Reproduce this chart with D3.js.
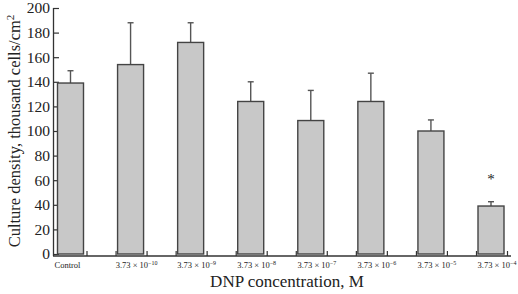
<!DOCTYPE html>
<html>
<head>
<meta charset="utf-8">
<script src="https://cdnjs.cloudflare.com/ajax/libs/d3/7.8.5/d3.min.js"></script>
<style>
  body { margin: 0; background: #fff; }
  text { font-family: "Liberation Serif", "DejaVu Serif", serif; fill: #222; }
</style>
</head>
<body>
<div id="chart"></div>
<script>
var categories = ["Control", "-10", "-9", "-8", "-7", "-6", "-5", "-4"];
var means = [139, 154, 172, 124, 108.5, 124, 100, 39];
var errors = [10, 34, 16, 16, 24.5, 23, 9, 3.5];
var signif = [false, false, false, false, false, false, false, true];
var yTicks = [0, 20, 40, 60, 80, 100, 120, 140, 160, 180, 200];

var width = 518, height = 294;

var svg = d3.select("#chart").append("svg")
  .attr("width", width)
  .attr("height", height);

var x = d3.scalePoint()
  .domain(categories)
  .range([70.5, 491]);

var y = d3.scaleLinear()
  .domain([0, 200])
  .range([254, 8]);

var barW = 26;
var axisY = 256;

// y axis
var yAxis = d3.axisRight(y)
  .tickValues(yTicks)
  .tickSize(6)
  .tickFormat(d3.format("d"));

var gy = svg.append("g")
  .attr("transform", "translate(53,0)")
  .call(yAxis);
gy.select(".domain").remove();
gy.selectAll(".tick line").attr("stroke", "#333").attr("stroke-width", 1.2);
gy.selectAll(".tick text")
  .attr("x", -3)
  .attr("text-anchor", "end")
  .attr("font-size", 15.5)
  .style("font-family", "Liberation Serif");
svg.append("line")
  .attr("x1", 53.5).attr("x2", 53.5)
  .attr("y1", y(200)).attr("y2", axisY)
  .attr("stroke", "#333").attr("stroke-width", 1.3);

// x axis line + band ticks
svg.append("line")
  .attr("x1", 53).attr("x2", 511)
  .attr("y1", axisY).attr("y2", axisY)
  .attr("stroke", "#333").attr("stroke-width", 1.3);

var tickPos = [];
categories.forEach(function (c, i) {
  if (i > 0) tickPos.push(x(c) - barW / 2 - 1.5);
  tickPos.push(x(c) + barW / 2 + 3.5);
});
svg.selectAll(".xtick")
  .data(tickPos)
  .enter().append("line")
  .attr("class", "xtick")
  .attr("x1", function (d) { return d; })
  .attr("x2", function (d) { return d; })
  .attr("y1", axisY).attr("y2", axisY - 5)
  .attr("stroke", "#333").attr("stroke-width", 1.2);

// error bars
var eb = svg.selectAll(".err")
  .data(categories)
  .enter().append("g")
  .attr("class", "err");
eb.append("line")
  .attr("x1", function (d) { return x(d); })
  .attr("x2", function (d) { return x(d); })
  .attr("y1", function (d, i) { return y(means[i]); })
  .attr("y2", function (d, i) { return y(means[i] + errors[i]); })
  .attr("stroke", "#555").attr("stroke-width", 1.4);
eb.append("line")
  .attr("x1", function (d) { return x(d) - 3; })
  .attr("x2", function (d) { return x(d) + 3; })
  .attr("y1", function (d, i) { return y(means[i] + errors[i]); })
  .attr("y2", function (d, i) { return y(means[i] + errors[i]); })
  .attr("stroke", "#555").attr("stroke-width", 1.4);

// bars
svg.selectAll(".bar")
  .data(categories)
  .enter().append("rect")
  .attr("class", "bar")
  .attr("x", function (d) { return x(d) - barW / 2; })
  .attr("y", function (d, i) { return y(means[i]); })
  .attr("width", barW)
  .attr("height", function (d, i) { return y(0) - y(means[i]); })
  .attr("fill", "#c8c8c8")
  .attr("stroke", "#444")
  .attr("stroke-width", 1.4);

// significance
svg.selectAll(".star")
  .data(categories.filter(function (d, i) { return signif[i]; }))
  .enter().append("text")
  .attr("x", function (d) { return x(d); })
  .attr("y", function (d) { var i = categories.indexOf(d); return y(means[i] + errors[i]) - 18; })
  .attr("text-anchor", "middle")
  .attr("font-size", 15)
  .text("*");

// x tick labels
var xl = svg.selectAll(".xlab")
  .data(categories)
  .enter().append("text")
  .attr("class", "xlab")
  .attr("x", function (d, i) { return i === 0 ? x(d) - 3 : x(d) + 6; })
  .attr("y", 268)
  .attr("text-anchor", "middle")
  .attr("font-size", 8.5);
xl.each(function (d) {
  var t = d3.select(this);
  if (d === "Control") { t.text("Control"); return; }
  t.append("tspan").text("3.73 \u00d7 10");
  t.append("tspan").attr("dy", -3.5).attr("font-size", 6).text(d.replace("-", "\u2212"));
});

// axis titles
svg.append("text")
  .attr("x", 287)
  .attr("y", 287)
  .attr("text-anchor", "middle")
  .attr("font-size", 17)
  .text("DNP concentration, M");

var yt = svg.append("text")
  .attr("transform", "translate(20,131) rotate(-90)")
  .attr("text-anchor", "middle")
  .attr("font-size", 16.5);
yt.append("tspan").text("Culture density, thousand cells/cm");
yt.append("tspan").attr("dy", -6).attr("font-size", 11).text("2");
</script>
</body>
</html>
